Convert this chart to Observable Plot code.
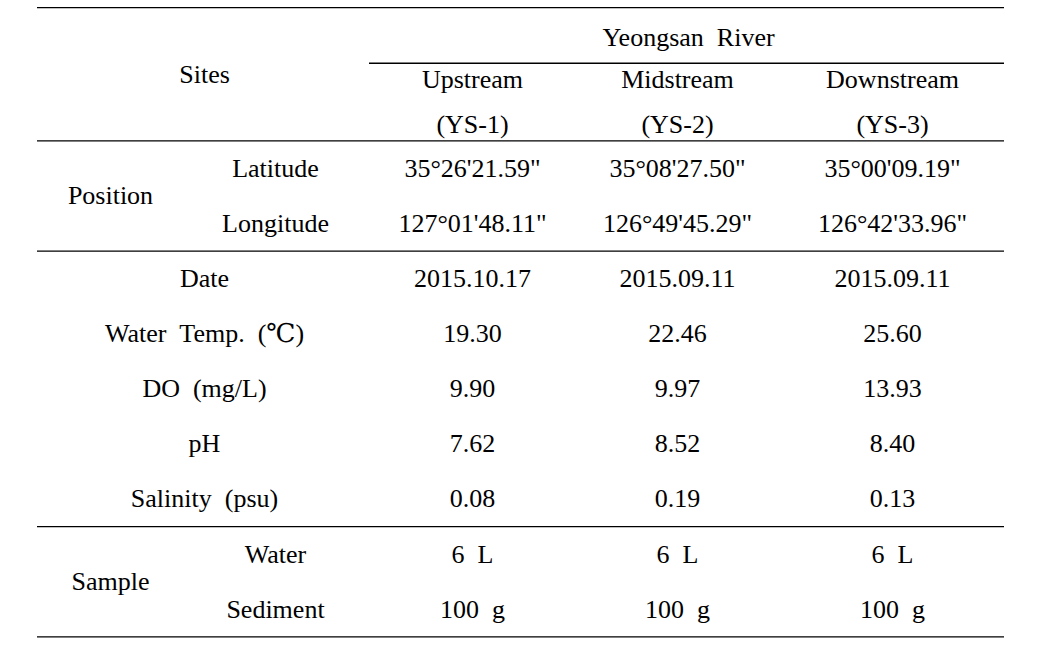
<!DOCTYPE html>
<html><head><meta charset="utf-8">
<script src="https://cdn.jsdelivr.net/npm/d3@7"></script>
<script src="https://cdn.jsdelivr.net/npm/@observablehq/plot@0.6"></script>
<style>body{margin:0;background:#fff}#chart svg{display:block}</style>
</head><body><div id="chart"></div>
<script>
const SP = "\u2002";
// ---- data ----
const riverName = `Yeongsan${SP}River`;
const headerLabel = "Sites";
const siteNames = ["Upstream", "Midstream", "Downstream"];
const siteCodes = ["(YS-1)", "(YS-2)", "(YS-3)"];
const groupLabels = ["Position", "Sample"];
const latitude = ["35°26'21.59\"", "35°08'27.50\"", "35°00'09.19\""];
const longitude = ["127°01'48.11\"", "126°49'45.29\"", "126°42'33.96\""];
const dates = ["2015.10.17", "2015.09.11", "2015.09.11"];
const waterTemp = ["19.30", "22.46", "25.60"];
const dissolvedO2 = ["9.90", "9.97", "13.93"];
const pH = ["7.62", "8.52", "8.40"];
const salinity = ["0.08", "0.19", "0.13"];
const waterVol = [`6${SP}L`, `6${SP}L`, `6${SP}L`];
const sedimentMass = [`100${SP}g`, `100${SP}g`, `100${SP}g`];
const rowLabels = ["Latitude", "Longitude", "Date", `Water${SP}Temp.${SP}(℃)`, `DO${SP}(mg/L)`, "pH", `Salinity${SP}(psu)`, "Water", "Sediment"];
const rowValues = [latitude, longitude, dates, waterTemp, dissolvedO2, pH, salinity, waterVol, sedimentMass];
const subRows = [0, 1, 7, 8]; // rows whose label sits in the sub-label column

// ---- layout (column centres and header row offsets, in px / row units) ----
const col = {left: 37, right: 1004, subLeft: 369, group: 110, sub: 275, label: 204, river: 688, values: [472, 677, 892]};
const hdr = {top: -2.92, riverLine: -1.91, river: -2.38, sites: -1.70, names: -1.615, codes: -0.80};

const cells = [];
cells.push({x: col.label, r: hdr.sites, t: headerLabel});
cells.push({x: col.river, r: hdr.river, t: riverName});
siteNames.forEach((s, j) => cells.push({x: col.values[j], r: hdr.names, t: s}));
siteCodes.forEach((s, j) => cells.push({x: col.values[j], r: hdr.codes, t: s}));
cells.push({x: col.group, r: 0.5, t: groupLabels[0]});
cells.push({x: col.group, r: 7.5, t: groupLabels[1]});
rowLabels.forEach((lab, i) => {
  cells.push({x: subRows.includes(i) ? col.sub : col.label, r: i, t: lab});
  rowValues[i].forEach((v, j) => cells.push({x: col.values[j], r: i, t: v}));
});

const lines = [
  {r: hdr.top, x1: col.left, x2: col.right},
  {r: hdr.riverLine, x1: col.subLeft, x2: col.right},
  {r: -0.5, x1: col.left, x2: col.right},
  {r: 1.5, x1: col.left, x2: col.right},
  {r: 6.5, x1: col.left, x2: col.right},
  {r: 8.5, x1: col.left, x2: col.right}
];

const FONT = "'Liberation Serif', 'Times New Roman', 'DejaVu Serif', serif";
const chart = Plot.plot({
  width: 1052, height: 672, margin: 0,
  style: {background: "#fff", fontFamily: FONT},
  x: {domain: [0, 1052], axis: null},
  y: {domain: [-3.049, 9.147], reverse: true, axis: null},
  marks: [
    Plot.ruleY(lines, {y: "r", x1: "x1", x2: "x2", stroke: "#000", strokeWidth: 1.3}),
    Plot.text(cells, {x: "x", y: "r", text: "t", fontSize: 26, fontFamily: FONT, fill: "#000"})
  ]
});
document.getElementById("chart").appendChild(chart);
</script>
</body></html>
